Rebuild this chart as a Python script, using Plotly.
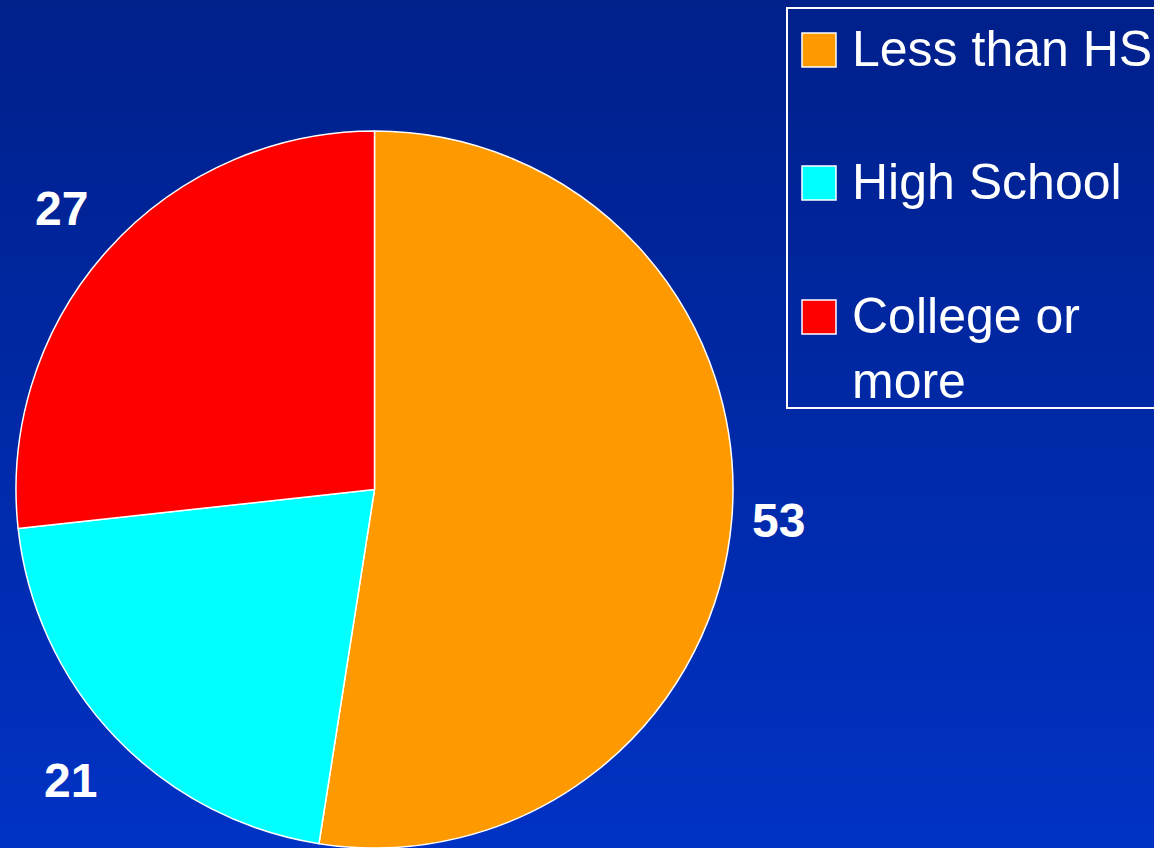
import math
import plotly.graph_objects as go

# ---- data ----
categories = ["Less than HS", "High School", "College or more"]
legend_texts = ["Less than HS", "High School", "College or<br>more"]
values = [53, 21, 27]
colors = ["#FF9900", "#00FFFF", "#FF0000"]

W, H = 1154, 848


def px(x):
    return x / W


def py(y):
    return 1 - y / H


# pie geometry (pixels)
pie_left, pie_right, pie_top, pie_bottom = 16, 733, 131, 848
R = (pie_right - pie_left) / 2
cx = (pie_left + pie_right) / 2
cy = pie_top + R

fig = go.Figure()
fig.add_trace(go.Pie(
    labels=categories,
    values=values,
    marker=dict(colors=colors, line=dict(color="white", width=1.5)),
    sort=False,
    direction="clockwise",
    rotation=0,
    textinfo="none",
    hoverinfo="label+value",
    showlegend=False,
    domain=dict(x=[px(pie_left), px(pie_right)], y=[py(pie_bottom), py(pie_top)]),
))

shapes = []
# vertical gradient background
top_rgb = (0, 32, 138)
bot_rgb = (0, 50, 196)
n = 106
step = H / n
for i in range(n):
    t = (i + 0.5) / n
    c = tuple(round(a + (b - a) * t) for a, b in zip(top_rgb, bot_rgb))
    shapes.append(dict(type="rect", xref="paper", yref="paper",
                       x0=0, x1=1, y0=py((i + 1) * step + 0.5), y1=py(i * step),
                       fillcolor="rgb(%d,%d,%d)" % c, line=dict(width=0), layer="below"))

annotations = []
# value labels placed along each slice's bisector
total = sum(values)
cum = 0
for v in values:
    mid = (cum + v / 2) / total * 2 * math.pi
    cum += v
    label_dist = R + 45 + 25 * abs(math.cos(mid))
    lx = cx + label_dist * math.sin(mid)
    ly = cy - label_dist * math.cos(mid)
    annotations.append(dict(x=px(lx), y=py(ly), xref="paper", yref="paper",
                            text=str(v), showarrow=False, xanchor="center", yanchor="middle",
                            font=dict(family="Liberation Sans, Arial, sans-serif", size=48,
                                      color="white", weight="bold")))

# legend box
shapes.append(dict(type="rect", xref="paper", yref="paper",
                   x0=px(787), x1=px(1170), y0=py(408), y1=py(8),
                   line=dict(color="white", width=2), fillcolor="rgba(0,0,0,0)", layer="above"))
item_y = [50, 183, 317]
for txt, col, yc in zip(legend_texts, colors, item_y):
    shapes.append(dict(type="rect", xref="paper", yref="paper",
                       x0=px(802), x1=px(836), y0=py(yc + 17), y1=py(yc - 17),
                       fillcolor=col, line=dict(color="white", width=1.5), layer="above"))
    annotations.append(dict(x=px(850), y=py(yc - 31), xref="paper", yref="paper",
                            text=txt, showarrow=False, xanchor="left", yanchor="top",
                            align="left",
                            font=dict(family="Liberation Sans, Arial, sans-serif", size=50,
                                      color="white")))

fig.update_layout(
    width=W, height=H,
    margin=dict(l=0, r=0, t=0, b=0, pad=0),
    paper_bgcolor="#00228c",
    plot_bgcolor="#00228c",
    shapes=shapes,
    annotations=annotations,
    showlegend=False,
)

fig.write_html("out.html")
